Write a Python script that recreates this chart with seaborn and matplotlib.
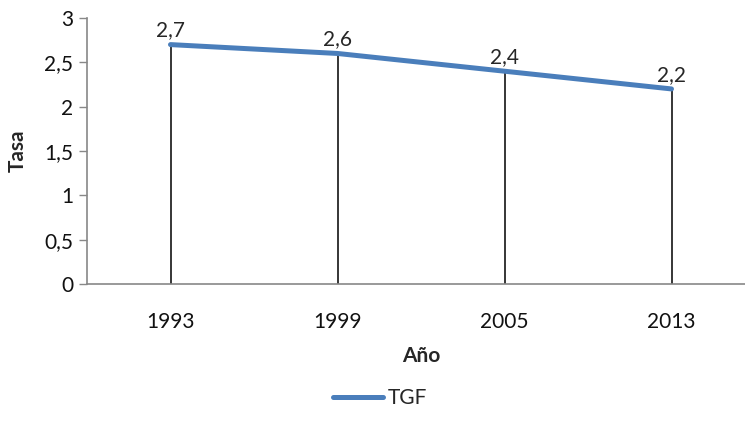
import matplotlib
matplotlib.use("Agg")
import matplotlib.pyplot as plt
import seaborn as sns
import pandas as pd
from matplotlib.ticker import FuncFormatter

sns.set_style("white")
plt.rcParams['font.family'] = ['Lato', 'DejaVu Sans']

# data
years = ["1993", "1999", "2005", "2013"]
tgf = [2.7, 2.6, 2.4, 2.2]

df = pd.DataFrame({"Año": years, "TGF": tgf})

W, H = 745, 423
fs = 15
fig = plt.figure(figsize=(W / 100, H / 100), dpi=100)
ax = fig.add_axes([87 / W, 1 - 284 / H, 668 / W, 266 / H])

# drop lines from each point to the axis
ax.vlines(range(len(years)), 0, tgf, color="black", lw=1.1, zorder=2)

sns.lineplot(data=df, x="Año", y="TGF", sort=False, color="#4A7EBB",
             lw=3.6, label="TGF", legend=False, ax=ax, zorder=3)

for i, v in enumerate(tgf):
    ax.annotate(f"{v:.1f}".replace(".", ","), (i, v), xytext=(0, 3),
                textcoords="offset points", ha="center", va="bottom", fontsize=fs)

ax.set_xlim(-0.5, 3.5)
ax.set_ylim(0, 3)
ax.set_yticks([0, 0.5, 1, 1.5, 2, 2.5, 3])
ax.yaxis.set_major_formatter(FuncFormatter(lambda v, p: f"{v:g}".replace(".", ",")))

for s in ["top", "right"]:
    ax.spines[s].set_visible(False)
for s in ["left", "bottom"]:
    ax.spines[s].set_color("#888888")
    ax.spines[s].set_linewidth(1.2)

ax.tick_params(axis="y", left=True, length=6, width=1, color="#888888",
               labelsize=fs, pad=4, labelcolor="#111111")
ax.tick_params(axis="x", bottom=False, labelsize=fs, pad=17, labelcolor="#111111")

ax.set_xlabel("Año", fontsize=fs, fontweight="bold", labelpad=10)
ax.set_ylabel("Tasa", fontsize=fs, fontweight="bold", labelpad=12)

handles, labels = ax.get_legend_handles_labels()
fig.legend(handles, labels, loc="center", bbox_to_anchor=(380 / W, 1 - 398 / H),
           frameon=False, fontsize=fs, handlelength=2.4, handletextpad=0.2)

fig.savefig("out.png", dpi=100)
